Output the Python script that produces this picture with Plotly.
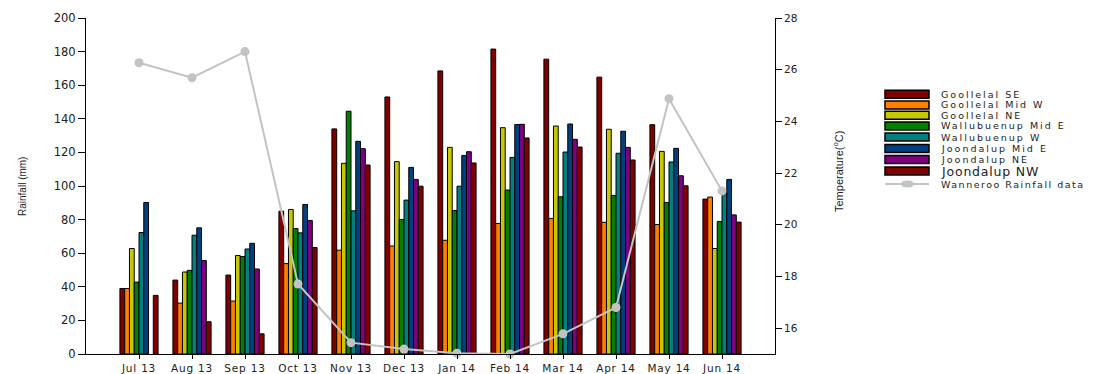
import plotly.graph_objects as go

months = ["Jul 13", "Aug 13", "Sep 13", "Oct 13", "Nov 13", "Dec 13",
          "Jan 14", "Feb 14", "Mar 14", "Apr 14", "May 14", "Jun 14"]

goollelal_se = [39, 44, 47, 85, 134, 153, 168.5, 181.5, 175.5, 164.8, 136.5, 92.2]
goollelal_mid_w = [39, 30.3, 31.5, 53.8, 61.8, 64.3, 67.7, 77.7, 80.7, 78.4, 77.1, 93.4]
goollelal_ne = [62.8, 48.8, 58.6, 86, 113.5, 114.5, 123, 134.7, 135.7, 133.8, 120.6, 62.8]
wallubuenup_mid_e = [42.8, 49.8, 58, 74.7, 144.5, 80.1, 85.4, 97.6, 93.6, 94.4, 90.2, 78.9]
wallubuenup_w = [72.3, 70.7, 62.5, 72.1, 85.2, 91.6, 99.9, 117, 120.2, 119.5, 114.3, 97.5]
joondalup_mid_e = [90.2, 75.1, 65.9, 89, 126.6, 111.1, 118.2, 136.6, 136.9, 132.6, 122.4, 103.9]
joondalup_ne = [None, 55.6, 50.6, 79.5, 122.2, 103.9, 120.4, 136.7, 127.8, 123, 106.1, 82.8]
joondalup_nw = [34.9, 19.2, 12, 63.4, 112.5, 99.9, 113.7, 128.6, 123.2, 115.5, 100.1, 78.5]

wanneroo_temp = [26.27, 25.69, 26.7, 17.71, 15.44, 15.19, 15.03, 15.0, 15.78, 16.8, 24.88, 21.31]

series_names = ["Goollelal SE", "Goollelal Mid W", "Goollelal NE", "Wallubuenup Mid E",
                "Wallubuenup W", "Joondalup Mid E", "Joondalup NE", "Joondalup NW"]
series_values = [goollelal_se, goollelal_mid_w, goollelal_ne, wallubuenup_mid_e,
                 wallubuenup_w, joondalup_mid_e, joondalup_ne, joondalup_nw]
series_colors = ["#800000", "#FF8000", "#C8C800", "#008000",
                 "#008080", "#00407F", "#800080", "#800000"]
line_name = "Wanneroo Rainfall data"
line_color = "#C3C3C3"

W, H = 1107, 374
L, R, T, B = 86, 775, 18, 354


def px_x(p):
    return (p - L) / (R - L)


def px_y(p):
    return (B - p) / (B - T)


fig = go.Figure()
for name, vals, col in zip(series_names, series_values, series_colors):
    fig.add_trace(go.Bar(x=months, y=vals, name=name, marker_color=col,
                         marker_line_color="black", marker_line_width=1,
                         showlegend=False))

fig.add_trace(go.Scatter(x=months, y=wanneroo_temp, yaxis="y2", name=line_name,
                         mode="lines+markers", cliponaxis=False,
                         line=dict(color=line_color, width=2),
                         marker=dict(color=line_color, size=9),
                         showlegend=False))

month_ticktext = [f"<span style='letter-spacing:0.8px'>{m}</span>" for m in months]

fig.update_layout(
    width=W, height=H, autosize=False,
    margin=dict(l=L, r=W - R, t=T, b=H - B, pad=0, autoexpand=False),
    paper_bgcolor="white", plot_bgcolor="white",
    barmode="group", bargap=0.28, bargroupgap=0,
    font=dict(family="DejaVu Sans", color="#222222"),
    xaxis=dict(type="category", range=[-1, 12], showline=True, linecolor="black",
               linewidth=1, ticks="outside", ticklen=4, tickcolor="black",
               tickvals=months, ticktext=month_ticktext,
               showgrid=False, automargin=False,
               tickfont=dict(family="DejaVu Sans", size=10.5, color="#222222")),
    yaxis=dict(range=[0, 200], dtick=20, showline=True, linecolor="black", linewidth=1,
               ticks="outside", ticklen=7, tickcolor="black", showgrid=False,
               zeroline=False, automargin=False,
               tickfont=dict(family="DejaVu Sans", size=11.5, color="#222222")),
    yaxis2=dict(range=[15, 28], tickvals=[16, 18, 20, 22, 24, 26, 28], overlaying="y",
                side="right", showline=True, linecolor="black", linewidth=1,
                ticks="outside", ticklen=6, tickcolor="black", showgrid=False,
                zeroline=False, automargin=False,
                tickfont=dict(family="DejaVu Sans", size=10.5, color="#222222")),
)

annotations = [
    dict(x=px_x(22), y=px_y(187), xref="paper", yref="paper", text="Rainfall (mm)",
         textangle=-90, showarrow=False, xanchor="center", yanchor="middle",
         font=dict(family="Liberation Sans", size=10, color="#222222")),
    dict(x=px_x(838), y=px_y(172), xref="paper", yref="paper",
         text="Temperature(<sup>o</sup>C)",
         textangle=-90, showarrow=False, xanchor="center", yanchor="middle",
         font=dict(family="Liberation Sans", size=11, color="#222222")),
]

shapes = []
row_y = [94.3, 105, 115.3, 126, 137, 148.5, 159.5, 171]
for i, (name, col) in enumerate(zip(series_names, series_colors)):
    yc = row_y[i]
    shapes.append(dict(type="rect", xref="paper", yref="paper",
                       x0=px_x(885), x1=px_x(929), y0=px_y(yc - 4), y1=px_y(yc + 4),
                       fillcolor=col, line=dict(color="black", width=1.5)))
    last = i == len(series_names) - 1
    size = 12.5 if last else 9.5
    spacing = "0.8px" if last else "2px"
    annotations.append(dict(x=px_x(939), y=px_y(yc), xref="paper", yref="paper",
                            text=f"<span style='letter-spacing:{spacing}'>{name}</span>",
                            showarrow=False, xanchor="left", yanchor="middle",
                            font=dict(family="DejaVu Sans", size=size, color="#222222")))
ly = 184
shapes.append(dict(type="line", xref="paper", yref="paper", x0=px_x(885), x1=px_x(929),
                   y0=px_y(ly), y1=px_y(ly), line=dict(color=line_color, width=2)))
shapes.append(dict(type="circle", xref="paper", yref="paper", x0=px_x(901), x1=px_x(914),
                   y0=px_y(ly - 3), y1=px_y(ly + 3), fillcolor=line_color,
                   line=dict(color=line_color, width=1)))
annotations.append(dict(x=px_x(939), y=px_y(ly), xref="paper", yref="paper",
                        text=f"<span style='letter-spacing:1.5px'>{line_name}</span>",
                        showarrow=False, xanchor="left", yanchor="middle",
                        font=dict(family="DejaVu Sans", size=9.5, color="#222222")))

fig.update_layout(annotations=annotations, shapes=shapes)
fig.write_html("out.html", config={"displayModeBar": False},
               post_script="document.body.style.margin='0';")
